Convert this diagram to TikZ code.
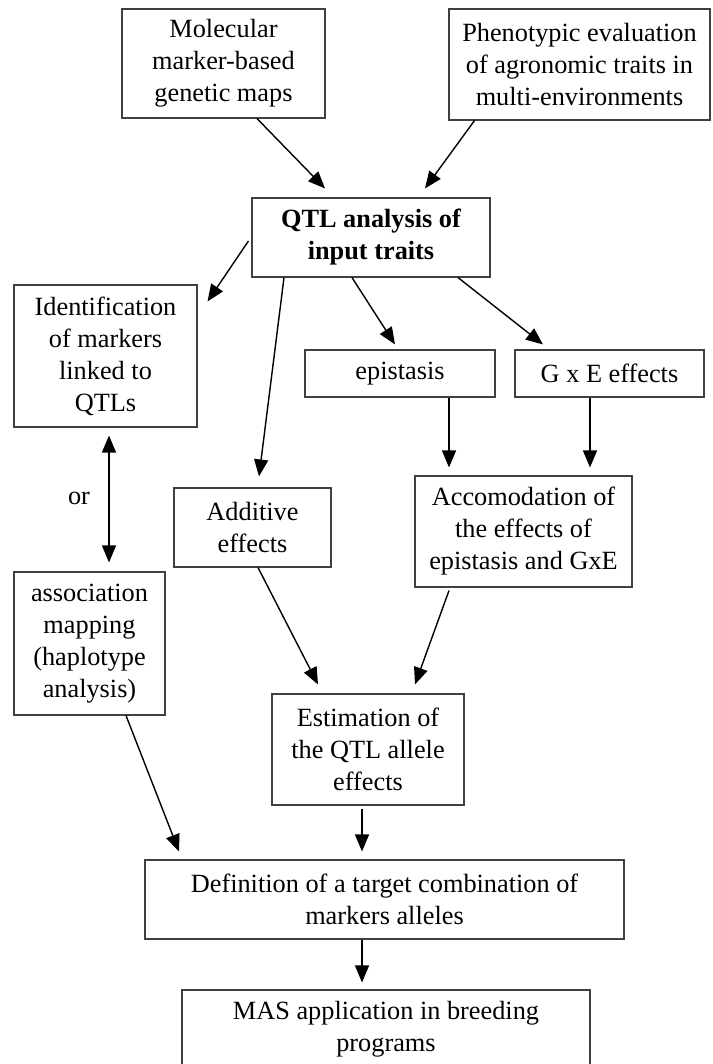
\documentclass[tikz,border=0pt]{standalone}
\usepackage{fontspec}
\setmainfont{Liberation Serif}
\usetikzlibrary{arrows.meta}

\begin{document}
\begin{tikzpicture}[x=1pt,y=-1pt,
  box/.style={draw=black!75,line width=1.1pt,align=center,inner sep=0pt,
    font=\fontsize{26.3}{32}\selectfont},
  arr/.style={line width=1.4pt,-{Triangle[length=17pt,width=14pt]}}]
\newcommand{\gapin}{9pt}
\useasboundingbox (0,0) rectangle (712,1064);
\clip (0,0) rectangle (712,1064);

% inputs
\node[box,minimum width=203pt,minimum height=109pt] (mol) at (223.5,63.5) {Molecular\\marker-based\\genetic maps};
\node[box,minimum width=261pt,minimum height=111pt] (phen) at (579.5,64.5) {Phenotypic evaluation\\of agronomic traits in\\multi-environments};
\node[box,minimum width=238pt,minimum height=79pt] (qtl) at (371,237.5) {\bfseries QTL analysis of\\\bfseries input traits};

% outputs of the analysis
\node[box,minimum width=183pt,minimum height=142pt] (ident) at (105.5,356) {Identification\\of markers\\linked to\\QTLs};
\node[box,minimum width=190pt,minimum height=47pt] (epi) at (400,373.5) {epistasis};
\node[box,minimum width=189pt,minimum height=47pt] (gxe) at (609.5,373.5) {G x E effects};
\node[box,minimum width=157pt,minimum height=79pt] (add) at (252.5,527.5) {Additive\\effects};
\node[box,minimum width=217pt,minimum height=111pt] (acc) at (523.5,531.5) {Accomodation of\\the effects of\\epistasis and GxE};
\node[box,minimum width=151pt,minimum height=143pt] (assoc) at (89.5,643.5) {association\\mapping\\(haplotype\\analysis)};
\node[font=\fontsize{26.3}{32}\selectfont] (or) at (79,498) {or};

% final steps
\node[box,minimum width=192pt,minimum height=111pt] (est) at (368,749.5) {Estimation of\\the QTL allele\\effects};
\node[box,minimum width=479pt,minimum height=79pt] (def) at (384.5,899.5) {Definition of a target combination of\\markers alleles};
\node[box,minimum width=408pt,minimum height=79pt] (mas) at (386,1029.5) {MAS application in breeding\\programs};

\draw[arr] ([xshift=33.5pt]mol.south) -- ([xshift=-46pt,yshift=\gapin]qtl.north);
\draw[arr] ([xshift=-105pt]phen.south) -- ([xshift=54pt,yshift=\gapin]qtl.north);
\draw[arr] ([xshift=-3pt,yshift=-3.5pt]qtl.west) -- ([xshift=10pt,yshift=-17pt]ident.north east);
\draw[arr] ([xshift=-87pt]qtl.south) -- ([xshift=6.5pt,yshift=11pt]add.north);
\draw[arr] ([xshift=-19pt]qtl.south) -- ([xshift=-5pt,yshift=5pt]epi.north);
\draw[arr] ([xshift=87pt]qtl.south) -- ([xshift=-66.5pt,yshift=5pt]gxe.north);
\draw[arr] ([xshift=49pt]epi.south) -- ([xshift=-74.5pt,yshift=8pt]acc.north);
\draw[arr] ([xshift=-19.5pt]gxe.south) -- ([xshift=66.5pt,yshift=8pt]acc.north);
\draw[arr,{Triangle[length=17pt,width=14pt]}-{Triangle[length=17pt,width=14pt]}] ([xshift=3.5pt,yshift=-8pt]ident.south) -- ([xshift=19.5pt,yshift=\gapin]assoc.north);
\draw[arr] ([xshift=5.5pt]add.south) -- ([xshift=-50pt,yshift=\gapin]est.north);
\draw[arr] ([xshift=-74.5pt,yshift=-3pt]acc.south) -- ([xshift=47pt,yshift=\gapin]est.north);
\draw[arr] ([xshift=36.5pt]assoc.south) -- ([xshift=-205.5pt,yshift=8pt]def.north);
\draw[arr] ([xshift=-6pt,yshift=-3pt]est.south) -- ([xshift=-22.5pt,yshift=8pt]def.north);
\draw[arr] ([xshift=-22.5pt]def.south) -- ([xshift=-24pt,yshift=7pt]mas.north);
\end{tikzpicture}
\end{document}
